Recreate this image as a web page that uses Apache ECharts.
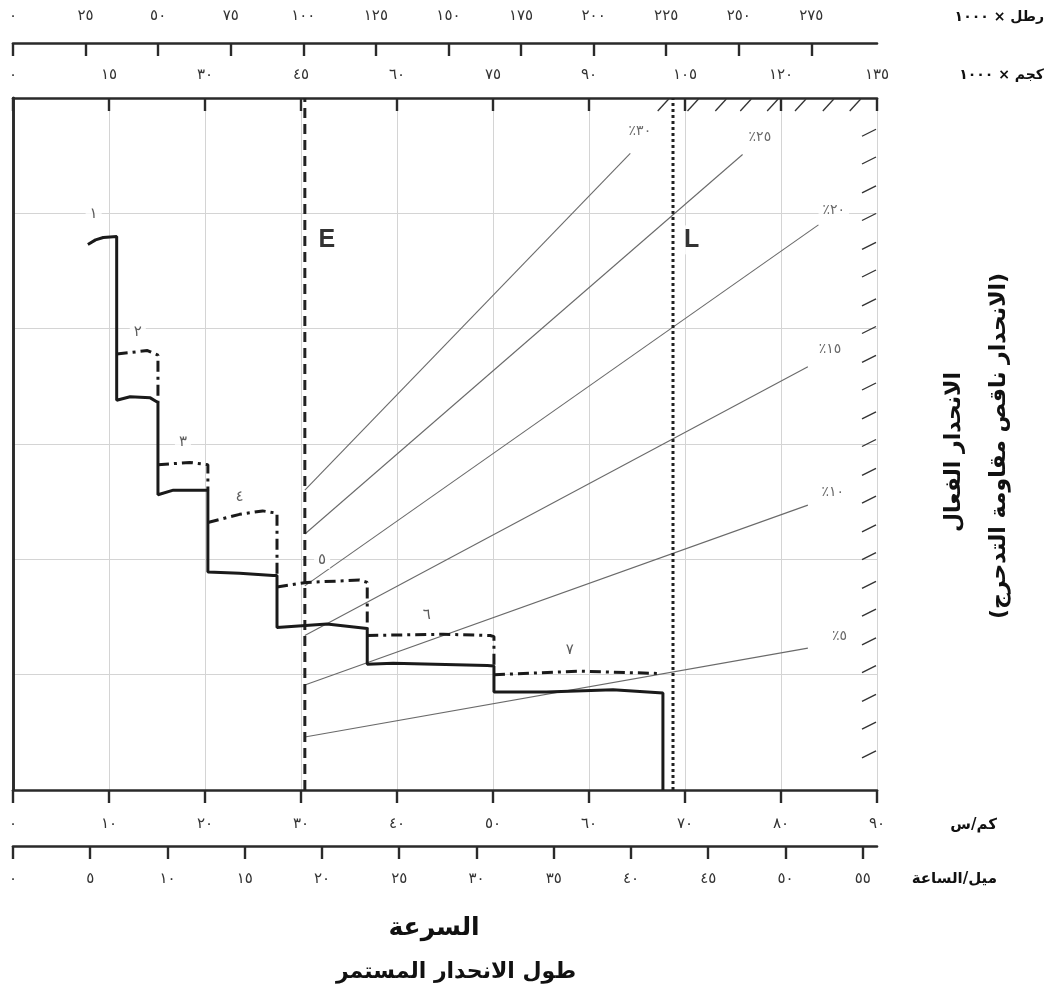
<!DOCTYPE html>
<html><head><meta charset="utf-8">
<script src="https://cdn.jsdelivr.net/npm/echarts@6/dist/echarts.min.js"></script>
<style>html,body{margin:0;padding:0;background:#fff}#c{width:1054px;height:998px}</style>
</head><body><div id="c"></div>
<script>
// ---- tick values ----
const kmhTicks=[0,10,20,30,40,50,60,70,80,90];
const mphTicks=[0,5,10,15,20,25,30,35,40,45,50,55];
const lbTicks=[0,25,50,75,100,125,150,175,200,225,250,275];
const kgTicks=[0,15,30,45,60,75,90,105,120,135];
const KMH_MAX=90, MPH_MAX=90/1.609344, KG_MAX=135, LB_MAX=135*2.20462;

// ---- solid gear curves (km/h, effective grade units) ----
const gear1=[[7.8,47.3],[8.6,47.7],[9.4,47.9],[10.8,48.0]];
const gear2=[[10.8,33.8],[12.2,34.1],[14.3,34.0],[15.1,33.6]];
const gear3=[[15.1,25.6],[16.7,26.0],[20.3,26.0]];
const gear4=[[20.3,18.9],[23.6,18.8],[27.1,18.6],[27.5,18.6]];
const gear5=[[27.5,14.1],[32.7,14.4],[36.9,14.0]];
const gear6=[[36.9,10.9],[39.6,11.0],[49.4,10.8],[50.1,10.75]];
const gear7=[[50.1,8.5],[55.6,8.5],[62.5,8.7],[67.7,8.4],[67.7,0]];
// ---- dash-dot alternative curves ----
const alt2=[[10.8,37.8],[14.0,38.1],[15.1,37.7],[15.1,33.6]];
const alt3=[[15.1,28.2],[18.4,28.4],[20.3,28.2],[20.3,26.0]];
const alt4=[[20.3,23.2],[23.6,23.9],[26.0,24.2],[27.5,24.0],[27.5,18.6]];
const alt5=[[27.5,17.6],[30.6,18.0],[36.1,18.2],[36.9,18.0],[36.9,14.0]];
const alt6=[[36.9,13.4],[44.8,13.5],[49.7,13.4],[50.1,13.3],[50.1,10.75]];
const alt7=[[50.1,10.0],[59.1,10.3],[67.4,10.1]];
const gearLabels=['١','٢','٣','٤','٥','٦','٧'];
const gearLabelPos=[[8.4,49.9],[13.0,39.7],[17.7,30.2],[23.6,25.4],[32.2,19.9],[43.1,15.2],[58.0,12.1]];

// ---- grade lines ----
const E_X=30.4, L_X=68.75;
const gradeNames=['٪٥','٪١٠','٪١٥','٪٢٠','٪٢٥','٪٣٠'];
const gradeStartY=[4.6,9.1,13.4,17.7,22.2,26.0];
const gradeEndX=[82.8,82.8,82.8,83.9,76.0,64.3];
const gradeEndY=[12.3,24.7,36.7,49.0,55.1,55.2];
const gradeLabelX=[86.1,85.4,85.1,85.5,77.8,65.3];
const gradeLabelY=[13.3,25.8,38.2,50.3,56.6,57.1];

// ---- boundary hatching ----
const rightHatchY=[57.2,54.8,52.3,49.9,47.4,45.0,42.5,40.1,37.6,35.2,32.7,30.3,27.8,25.4,22.9,20.5,18.0,15.6,13.1,10.7,8.2,5.8,3.3];
const topHatchX=[68.2,71.3,74.2,76.8,79.6,82.5,85.4,88.2];

const AR='"DejaVu Sans"';
const toAr=v=>String(v).replace(/[0-9]/g,d=>'٠١٢٣٤٥٦٧٨٩'[d]);
const INK='#1a1a1a';
const TICKFONT=15;

function axisCommon(extra){
  return Object.assign({type:'value',gridIndex:0,
    axisLine:{show:true,onZero:false,lineStyle:{color:'#2a2a2a',width:2.6}},
    axisTick:{show:true,length:13,lineStyle:{color:'#2a2a2a',width:2.4}},
    axisLabel:{color:'#333',fontSize:TICKFONT,fontFamily:AR,formatter:v=>toAr(v)},
    splitLine:{show:false}},extra);
}

const series=[];
const solid=[].concat(gear1,gear2,gear3,gear4,gear5,gear6,gear7);
series.push({type:'line',data:solid,showSymbol:false,z:5,lineStyle:{color:INK,width:3}});
[alt2,alt3,alt4,alt5,alt6,alt7].forEach(a=>series.push({type:'line',data:a,showSymbol:false,z:5,
  lineStyle:{color:INK,width:3,type:[11,5,3,5]}}));
gradeNames.forEach((n,i)=>series.push({type:'line',data:[[E_X,gradeStartY[i]],[gradeEndX[i],gradeEndY[i]]],
  showSymbol:false,z:3,lineStyle:{color:'#6a6a6a',width:1.1}}));
series.push({type:'line',data:[[E_X,0],[E_X,60]],showSymbol:false,z:4,lineStyle:{color:'#222',width:3,type:[10,6]}});
series.push({type:'line',data:[[L_X,0],[L_X,60]],showSymbol:false,z:4,lineStyle:{color:'#222',width:3,type:[3,3]}});
// hatching
series.push({type:'custom',clip:false,z:4,data:rightHatchY.map(y=>[KMH_MAX,y]),
  renderItem:(p,api)=>{const c=api.coord([api.value(0),api.value(1)]);
    return {type:'line',shape:{x1:c[0]-15,y1:c[1]+6,x2:c[0]-1,y2:c[1]-1},style:{stroke:'#333',lineWidth:1.3}};}});
series.push({type:'custom',clip:false,z:4,data:topHatchX.map(x=>[x,60]),
  renderItem:(p,api)=>{const c=api.coord([api.value(0),api.value(1)]);
    return {type:'line',shape:{x1:c[0]-10,y1:c[1]+13,x2:c[0]+1,y2:c[1]+1},style:{stroke:'#333',lineWidth:1.3}};}});
// labels
series.push({type:'scatter',symbolSize:0,z:10,silent:true,
  data:gearLabelPos.map((p,i)=>({value:p,name:gearLabels[i]})),
  label:{show:true,position:'inside',formatter:'{b}',color:'#333',fontSize:15,fontFamily:AR,backgroundColor:'#fff',padding:[1,4]}});
series.push({type:'scatter',symbolSize:0,z:10,silent:true,
  data:gradeNames.map((n,i)=>({value:[gradeLabelX[i],gradeLabelY[i]],name:n})),
  label:{show:true,position:'inside',formatter:'{b}',color:'#444',fontSize:14,fontFamily:AR,backgroundColor:'#fff',padding:[2,4]}});
series.push({type:'scatter',symbolSize:0,z:10,silent:true,
  data:[{value:[32.7,47.7],name:'E'},{value:[70.7,47.7],name:'L'}],
  label:{show:true,position:'inside',formatter:'{b}',color:'#000',fontSize:25,fontWeight:'bold',fontFamily:'"Liberation Sans"',backgroundColor:'#fff',padding:[2,2]}});

const option={
  animation:false,
  backgroundColor:'#fff',
  grid:{left:13,right:177,top:98,bottom:208,containLabel:false},
  xAxis:[
    axisCommon({position:'bottom',min:0,max:KMH_MAX,interval:10,
      axisLabel:{color:'#333',fontSize:TICKFONT,fontFamily:AR,margin:27,formatter:v=>toAr(v)},
      splitLine:{show:true,lineStyle:{color:'#d4d4d4',width:1}}}),
    axisCommon({position:'bottom',offset:56,min:0,max:MPH_MAX,interval:5,
      axisTick:{show:true,length:13,customValues:mphTicks,lineStyle:{color:'#2a2a2a',width:2.4}},
      axisLabel:{color:'#333',fontSize:TICKFONT,fontFamily:AR,margin:26,customValues:mphTicks,formatter:v=>toAr(v)}}),
    axisCommon({position:'top',offset:55,min:0,max:LB_MAX,interval:25,
      axisTick:{show:true,inside:true,length:13,customValues:lbTicks,lineStyle:{color:'#2a2a2a',width:2.4}},
      axisLabel:{color:'#333',fontSize:TICKFONT,fontFamily:AR,margin:19,customValues:lbTicks,formatter:v=>toAr(v)}}),
    axisCommon({position:'top',offset:0,min:0,max:KG_MAX,interval:15,
      axisTick:{show:true,inside:true,length:13,customValues:kgTicks,lineStyle:{color:'#2a2a2a',width:2.4}},
      axisLabel:{color:'#333',fontSize:TICKFONT,fontFamily:AR,margin:15,customValues:kgTicks,formatter:v=>toAr(v)}})
  ],
  yAxis:[
    {type:'value',position:'left',min:0,max:60,interval:10,
      axisLine:{show:true,lineStyle:{color:'#2a2a2a',width:2.6}},axisTick:{show:false},axisLabel:{show:false},
      splitLine:{show:true,lineStyle:{color:'#d4d4d4',width:1}}},
    {type:'value',position:'right',min:0,max:60,interval:10,
      axisLine:{show:true,lineStyle:{color:'#2a2a2a',width:2.6}},axisTick:{show:false},axisLabel:{show:false},
      splitLine:{show:false}}
  ],
  graphic:[
    {type:'text',x:1044,y:17,style:{text:'رطل × ١٠٠٠',font:'bold 14px '+AR,fill:'#111',textAlign:'right',textVerticalAlign:'middle'}},
    {type:'text',x:1044,y:75,style:{text:'كجم × ١٠٠٠',font:'bold 14px '+AR,fill:'#111',textAlign:'right',textVerticalAlign:'middle'}},
    {type:'text',x:997,y:825,style:{text:'كم/س',font:'bold 15px '+AR,fill:'#111',textAlign:'right',textVerticalAlign:'middle'}},
    {type:'text',x:997,y:879,style:{text:'ميل/الساعة',font:'bold 15px '+AR,fill:'#111',textAlign:'right',textVerticalAlign:'middle'}},
    {type:'text',x:954,y:452,rotation:Math.PI/2,style:{text:'الانحدار الفعال',font:'bold 22px '+AR,fill:'#111',textAlign:'center',textVerticalAlign:'middle'}},
    {type:'text',x:999,y:446,rotation:Math.PI/2,style:{text:'(الانحدار ناقص مقاومة التدحرج)',font:'bold 22px '+AR,fill:'#111',textAlign:'center',textVerticalAlign:'middle'}},
    {type:'text',x:434,y:928,style:{text:'السرعة',font:'bold 25px '+AR,fill:'#111',textAlign:'center',textVerticalAlign:'middle'}},
    {type:'text',x:456,y:972,style:{text:'طول الانحدار المستمر',font:'bold 22px '+AR,fill:'#111',textAlign:'center',textVerticalAlign:'middle'}}
  ],
  series:series
};
const chart=echarts.init(document.getElementById('c'),null,{renderer:'canvas'});
chart.setOption(option);
</script></body></html>
